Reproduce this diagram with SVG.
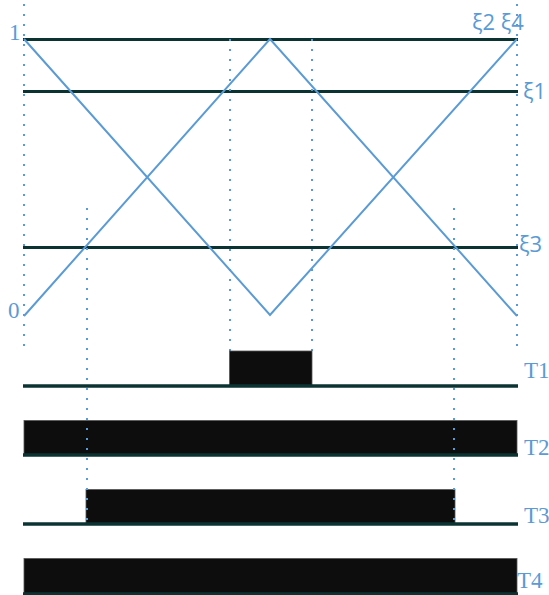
<svg xmlns="http://www.w3.org/2000/svg" width="549" height="595" viewBox="0 0 549 595">
<style>
.lvl{stroke:#0b3332;stroke-width:3.2;fill:none}
.wave{stroke:#5b9bd5;stroke-width:2;fill:none;stroke-linejoin:miter}
.dot{stroke:#5b9bd5;stroke-width:2;stroke-dasharray:2 8;fill:none}
.bar{fill:#0d0d0d;stroke:#555;stroke-width:0.8}
.base{stroke:#0b3332;stroke-width:3.5;fill:none}
.ser{font-family:"Liberation Serif",serif;font-size:23px;fill:#5b9bd5}
.san{font-family:"Open Sans","Liberation Sans",sans-serif;font-size:22px;fill:#5b9bd5}
</style>
<rect width="549" height="595" fill="#fff"/>
<g id="levels">
<line class="lvl" x1="23" y1="39.5" x2="518" y2="39.5"/>
<line class="lvl" x1="23" y1="91.5" x2="518" y2="91.5"/>
<line class="lvl" x1="23" y1="247.5" x2="518" y2="247.5"/>
</g>
<g id="guides">
<line class="dot" x1="24" y1="4" x2="24" y2="352"/>
<line class="dot" x1="517" y1="4" x2="517" y2="352"/>
<line class="dot" x1="230" y1="39" x2="230" y2="352"/>
<line class="dot" x1="312" y1="39" x2="312" y2="352"/>
</g>
<g id="waves">
<polyline class="wave" points="24,39 270,315 517,39"/>
<polyline class="wave" points="24,316 270,39 517,316"/>
</g>
<g id="T1">
<rect class="bar" x="229.5" y="351" width="82.5" height="35"/>
<line class="base" x1="23" y1="386" x2="518" y2="386"/>
</g>
<g id="T2">
<rect class="bar" x="24" y="420.5" width="493" height="35"/>
<line class="base" x1="23" y1="455" x2="518" y2="455"/>
</g>
<g id="T3">
<rect class="bar" x="86" y="489.5" width="369" height="35"/>
<line class="base" x1="23" y1="524" x2="518" y2="524"/>
</g>
<g id="T4">
<rect class="bar" x="24" y="558.5" width="493" height="35"/>
<line class="base" x1="23" y1="594" x2="518" y2="594"/>
</g>
<g id="connectors">
<line class="dot" x1="87" y1="208" x2="87" y2="526"/>
<line class="dot" x1="454" y1="208" x2="454" y2="526"/>
</g>
<g id="labels">
<text class="ser" x="9" y="40">1</text>
<text class="ser" x="8" y="318">0</text>
<text class="san" x="472" y="30">ξ2 ξ4</text>
<text class="san" x="523" y="99">ξ1</text>
<text class="san" x="519" y="252">ξ3</text>
<text class="ser" x="524" y="378">T1</text>
<text class="ser" x="524" y="455">T2</text>
<text class="san" x="524" y="523" style="font-family:'Liberation Serif',serif;font-size:23px">T3</text>
<text class="ser" x="517" y="588">T4</text>
</g>
</svg>
